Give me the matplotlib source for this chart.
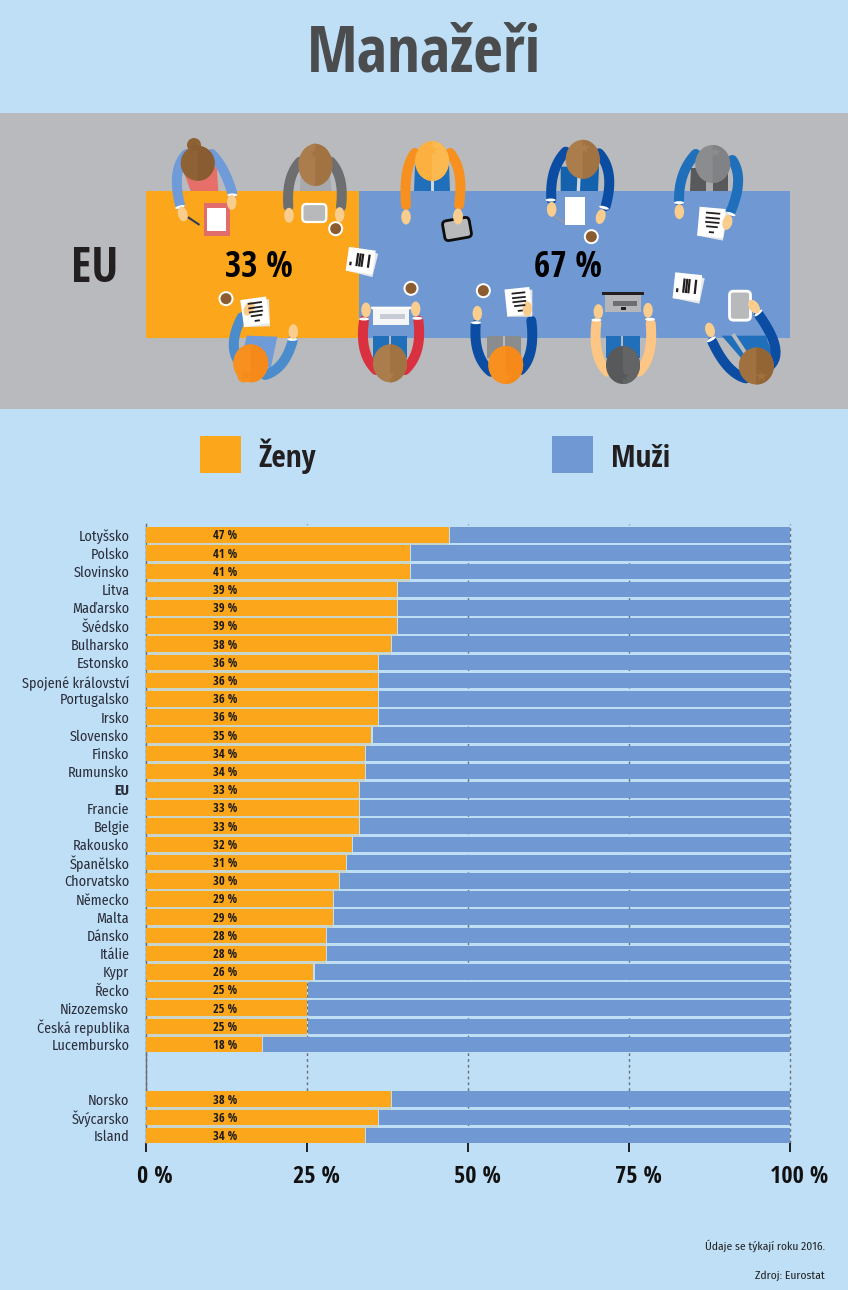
import numpy as np
import matplotlib
matplotlib.use("Agg")
import matplotlib.pyplot as plt
from matplotlib.patches import Rectangle, Polygon, Ellipse, Circle, FancyBboxPatch
from matplotlib.transforms import ScaledTranslation, Affine2D

# ---------- data ----------
countries = ["Lotyšsko", "Polsko", "Slovinsko", "Litva", "Maďarsko", "Švédsko", "Bulharsko", "Estonsko",
             "Spojené království", "Portugalsko", "Irsko", "Slovensko", "Finsko", "Rumunsko", "EU", "Francie",
             "Belgie", "Rakousko", "Španělsko", "Chorvatsko", "Německo", "Malta", "Dánsko", "Itálie", "Kypr",
             "Řecko", "Nizozemsko", "Česká republika", "Lucembursko"]
women = [47, 41, 41, 39, 39, 39, 38, 36, 36, 36, 36, 35, 34, 34, 33, 33, 33, 32, 31, 30, 29, 29, 28, 28, 26,
         25, 25, 25, 18]
other_countries = ["Norsko", "Švýcarsko", "Island"]
other_women = [38, 36, 34]
eu_women = 33
eu_men = 67
xticks = [0, 25, 50, 75, 100]
xticklabels = ["0 %", "25 %", "50 %", "75 %", "100 %"]
legend_labels = ["Ženy", "Muži"]
title = "Manažeři"
notes = ["Údaje se týkají roku 2016.", "Zdroj: Eurostat"]

# ---------- style ----------
BG = "#bfdff6"; GREY = "#b8babd"; ORANGE = "#fba61b"; BLUE = "#7099d3"
BOLD = ["Open Sans Condensed", "Liberation Sans", "DejaVu Sans"]
REG = ["Fira Sans Condensed", "Open Sans Condensed", "Liberation Sans", "DejaVu Sans"]
W, H = 848, 1290
fig = plt.figure(figsize=(W / 100, H / 100), dpi=100, facecolor=BG)

def px_axes(x0, y0, x1, y1, **kw):
    return fig.add_axes([x0 / W, 1 - y1 / H, (x1 - x0) / W, (y1 - y0) / H], **kw)

# ---------- static layout layer ----------
base = px_axes(0, 0, W, H, zorder=1)
base.set_xlim(0, W); base.set_ylim(H, 0); base.axis("off")
base.add_patch(Rectangle((0, 113), W, 296, fc=GREY, ec="none"))
base.text(424, 72, title, family=BOLD, fontweight="bold", fontsize=46.5, color="#4b4c4e", ha="center", va="baseline")
base.text(94.5, 282, "EU", family=BOLD, fontweight="bold", fontsize=34.5, color="#231f20", ha="center", va="baseline")
base.add_patch(Rectangle((200, 436), 41, 37, fc=ORANGE, ec="none"))
base.add_patch(Rectangle((552, 436), 41, 37, fc=BLUE, ec="none"))
base.text(258, 467, legend_labels[0], family=BOLD, fontweight="bold", fontsize=22.5, color="#231f20", va="baseline")
base.text(611, 467, legend_labels[1], family=BOLD, fontweight="bold", fontsize=22.5, color="#231f20", va="baseline")
base.text(825, 1246, notes[0], family=REG, fontsize=8.3, color="#222222", ha="right", va="center")
base.text(825, 1276, notes[1], family=REG, fontsize=8.3, color="#222222", ha="right", va="center")

# ---------- EU table (a stacked bar) ----------
tab = px_axes(146, 191, 790, 338, zorder=2)
tab.set_xlim(0, 100); tab.set_ylim(-0.5, 0.5); tab.axis("off")
tab.barh(0, eu_women, height=1, color=ORANGE, lw=0)
tab.barh(0, eu_men, left=eu_women, height=1, color=BLUE, lw=0)
tab.text(17.5, -0.085, f"{eu_women} %", family=BOLD, fontweight="bold", fontsize=25.3, color="black", ha="center", va="baseline")
tab.text(65.6, -0.085, f"{eu_men} %", family=BOLD, fontweight="bold", fontsize=25.3, color="black", ha="center", va="baseline")

# ---------- people illustration ----------
art = px_axes(0, 0, W, H, zorder=3)
art.set_xlim(0, W); art.set_ylim(H, 0); art.axis("off"); art.patch.set_alpha(0)

SKIN = "#f8cd8e"
def L(x, y): return (x / 3, 110 + y / 3)
def R(x, y): return (424 + x / 3, 110 + y / 3)

def arm(a, m, b, color, w=10):
    a, m, b = map(np.array, (a, m, b))
    c = m + 0.3 * (m - (a + b) / 2)
    t = np.linspace(0, 1, 40)[:, None]
    p = (1 - t) ** 2 * a + 2 * t * (1 - t) * c + t ** 2 * b
    art.plot(p[:, 0], p[:, 1], color=color, lw=w * 0.72, solid_capstyle="round", zorder=3)

def hand(p, a=0):
    art.add_patch(Ellipse(p, 9.5, 15, angle=a, fc=SKIN, ec="none", zorder=5))

def cuff(p, a=0):
    art.add_patch(Ellipse(p, 10, 3, angle=a, fc="white", ec="none", zorder=4))

def head(p, rx, ry, c1, c2, knot=None, star=None):
    art.add_patch(Ellipse(p, 2 * rx, 2 * ry, fc=c1, ec="none", zorder=6))
    t = np.linspace(-np.pi / 2, np.pi / 2, 40)
    pts = np.c_[p[0] + rx * np.cos(t), p[1] + ry * np.sin(t)]
    art.add_patch(Polygon(pts, fc=c2, ec="none", zorder=6))
    if knot is not None:
        art.add_patch(Circle(knot[:2], knot[2], fc=c1, ec="none", zorder=5))
    if star is not None:
        art.plot(*star, marker="*", ms=9, mfc=c1 if knot is None else c2, mec="none", alpha=1, zorder=7)

def box(pts, color, z=2):
    art.add_patch(Polygon(pts, fc=color, ec="none", zorder=z))

def rrect(c, w, h, rot, fc, ec=None, lw=2.0, r=3, z=5):
    p = FancyBboxPatch((-w / 2, -h / 2), w, h, boxstyle=f"round,pad=0,rounding_size={r}", fc=fc,
                       ec=ec or "none", lw=lw, zorder=z,
                       transform=Affine2D().rotate_deg(rot).translate(*c) + art.transData)
    art.add_patch(p)

def paper(c, w, h, rot, kind="lines"):
    rrect((c[0] + 1.5, c[1] + 1.5), w, h, rot + 6, "#e6e7e8", r=0.1, z=4)
    rrect(c, w, h, rot, "white", r=0.1, z=5)
    tr = Affine2D().rotate_deg(rot).translate(*c) + art.transData
    if kind == "lines":
        for f, ln in [(-0.32, 0.55), (-0.15, 0.55), (0.0, 0.55), (0.15, 0.45), (0.34, 0.2)]:
            art.plot([-ln * w / 2 + 1, ln * w / 2 + 1], [f * h, f * h], color="#231f20", lw=1.3, transform=tr, zorder=6, solid_capstyle="butt")
    else:
        for xx, top in [(-0.36, 0.1), (-0.13, -0.3), (-0.03, -0.3), (0.06, -0.3), (0.3, -0.3)]:
            art.plot([xx * w, xx * w], [top * h, 0.25 * h], color="#231f20", lw=1.6, transform=tr, zorder=6, solid_capstyle="butt")

def cup(c):
    art.add_patch(Circle(c, 7.5, fc="white", ec="none", zorder=5))
    art.add_patch(Circle(c, 5.5, fc="#8b5c30", ec="none", zorder=6))

HAIR = "#9c6c3c"; HAIR2 = "#8f6236"; TAN = "#ab7d4d"; TAN2 = "#a27342"
DKBLUE = "#0a4da2"; MIDBLUE = "#1f6fba"

# top row 1
box([L(553, 190), L(600, 215), L(650, 165), L(655, 243), L(572, 243)], "#e66f6a")
arm(L(560, 132), L(522, 185), L(540, 285), "#6f9bd8"); arm(L(635, 132), L(672, 175), L(697, 250), "#6f9bd8")
cuff(L(540, 291), -15); cuff(L(697, 255)); hand(L(548, 312), -15); hand(L(695, 277))
head(L(593, 160), 17, 17.5, HAIR2, "#8a5c32", (194, 145, 7), L(582, 110))
box([L(611, 279), L(689, 279), L(689, 378), L(611, 378)], "#e06c6c", 4)
box([L(622, 295), L(678, 295), L(678, 362), L(622, 362)], "white", 5)
art.plot(*zip(L(566, 323), L(596, 343)), color="#333b4f", lw=1.5, zorder=4)

# top row 2
box([L(902, 190), L(990, 190), L(995, 243), L(900, 243)], "#a7a9ac")
arm(L(900, 155), L(864, 205), L(865, 290), "#6d6e70"); arm(L(992, 155), L(1028, 205), L(1023, 290), "#6d6e70")
hand(L(867, 316)); hand(L(1019, 314))
head(L(946, 165), 17, 21, TAN, TAN2, (315, 150, 6.5), L(946, 128))
rrect(L(943, 309), 24, 18, 0, "#b7b9bb", "white", 1.6, 4)
cup(L(1007, 356))

# central sheet
paper(L(1082, 452), 27, 24, 8, "bars")

# top row 3 (orange)
box([(415, 165), (449, 165), (450, 191), (414, 191)], MIDBLUE)
box([(430.5, 178), (433.5, 178), (433.5, 191), (430.5, 191)], "#cfd6df", 3)
arm((415, 153), (405, 170), (406, 205), "#f7901e"); arm((450, 153), (462, 172), (459, 205), "#f7901e")
hand((406, 217)); hand((458, 217))
head((432, 161), 17, 20, "#fbb040", "#fcb950", None, (432, 150))
rrect((457, 229), 27, 20, -10, "#b7b9bb", "#0d0d0d", 2.0, 4, z=4)
hand((458, 216))

# top row 4
box([R(410, 170), R(525, 170), R(522, 243), R(410, 243)], "#1461ae")
box([R(460, 200), R(470, 200), R(468, 243), R(458, 243)], "#cfd6df", 3)
arm(R(425, 125), R(383, 180), R(382, 268), DKBLUE); arm(R(525, 130), R(565, 190), R(545, 288), DKBLUE)
cuff(R(380, 270)); cuff(R(540, 293), 15); hand(R(383, 298)); hand(R(530, 320), 15)
head(R(476, 148), 17, 19.5, TAN, TAN2, None, R(480, 113))
box([R(422, 260), R(483, 260), R(483, 345), R(422, 345)], "white", 4)
art.plot(*zip(R(395, 320), R(422, 338)), color="#8f9bb0", lw=1.5, zorder=3.5)
cup(R(502, 380))

# top row 5
box([R(800, 175), R(912, 175), R(912, 243), R(798, 243)], "#58595b")
box([R(845, 215), R(866, 215), R(866, 243), R(845, 243)], "#a7a9ac", 3)
arm(R(815, 132), R(770, 190), R(765, 272), MIDBLUE); arm(R(925, 150), R(953, 210), R(920, 305), MIDBLUE)
cuff(R(765, 278)); cuff(R(920, 312), 18); hand(R(766, 305)); hand(R(910, 337), 15)
paper(R(862, 337), 26, 29, 5)
hand(R(910, 337), 15)
head(R(866, 162), 17.5, 19, "#8a8c8e", "#808285", None, R(872, 125))

# bottom row 1 (orange hair)
box([L(740, 677), L(832, 680), L(812, 775), L(725, 745)], "#6f9bd8")
arm(L(725, 622), L(690, 705), L(720, 760), "#4a8ccc"); arm(L(795, 795), L(850, 770), L(878, 692), "#4a8ccc")
cuff(L(877, 688)); hand(L(880, 665))
paper(L(765, 605), 26, 27, -8)
hand(L(747, 596), 30)
cup(L(678, 566))
head(L(752, 760), 17.5, 19, "#f7901e", "#f58a1a", (244, 376, 6.5), L(734, 795))

# bottom row 2 (red)
box([L(1118, 677), L(1222, 677), L(1222, 745), L(1118, 745)], MIDBLUE)
box([L(1166, 677), L(1174, 677), L(1174, 745), L(1166, 745)], GREY, 3)
arm(L(1092, 632), L(1085, 725), L(1128, 780), "#d9313f"); arm(L(1255, 632), L(1260, 725), L(1215, 780), "#d9313f")
cuff(L(1092, 627)); cuff(L(1252, 625)); hand(L(1098, 600)); hand(L(1247, 597))
box([L(1112, 590), L(1235, 590), L(1232, 598), L(1115, 598)], "white", 4)
box([L(1120, 598), L(1226, 598), L(1226, 645), L(1120, 645)], "#f4f5f6", 4)
box([L(1140, 612), L(1216, 612), L(1216, 628), L(1140, 628)], "#c7cbd6", 5)
cup(L(1233, 535))
head(L(1170, 760), 17, 19, TAN, TAN2, None, L(1168, 795))

# bottom row 3 (orange, navy)
box([R(190, 677), R(290, 677), R(290, 745), R(190, 745)], "#8a8c8e")
box([R(236, 677), R(243, 677), R(243, 745), R(236, 745)], GREY, 3)
arm(R(155, 645), R(155, 735), R(200, 785), DKBLUE); arm(R(322, 632), R(328, 730), R(290, 780), DKBLUE)
cuff(R(156, 638)); hand(R(160, 610))
paper(R(283, 575), 25, 27, -6)
hand(R(310, 597)); cup(R(178, 542))
head(R(245, 765), 17.5, 19, "#f7901e", "#f58a1a", None, R(245, 800))

# bottom row 4 (laptop)
box([R(545, 677), R(648, 677), R(648, 745), R(545, 745)], MIDBLUE)
box([R(592, 677), R(598, 677), R(598, 745), R(592, 745)], GREY, 3)
arm(R(517, 640), R(512, 735), R(550, 785), "#fdc685"); arm(R(680, 640), R(683, 735), R(645, 785), "#fdc685")
cuff(R(517, 630)); cuff(R(678, 628)); hand(R(523, 605)); hand(R(672, 601))
box([R(535, 546), R(660, 546), R(660, 554), R(535, 554)], "#231f20", 4)
box([R(543, 554), R(650, 554), R(650, 605), R(543, 605)], "#b4b6b9", 4)
box([R(566, 573), R(638, 573), R(638, 587), R(566, 587)], "#6d6e70", 5)
box([R(590, 592), R(606, 592), R(606, 600), R(590, 600)], "#231f20", 5)
head(R(597, 765), 17, 19, "#58595b", "#636466", None, R(597, 798))

# sheet right
paper(R(790, 530), 27, 26, 6, "bars")

# bottom row 5
box([R(893, 677), R(1025, 677), R(1045, 730), R(965, 760)], MIDBLUE)
art.plot(*zip(R(930, 677), R(975, 745)), color=GREY, lw=2.8, zorder=3)
arm(R(865, 695), R(910, 780), R(965, 805), DKBLUE); arm(R(1005, 615), R(1068, 715), R(1040, 765), DKBLUE)
cuff(R(862, 688), -30); cuff(R(1003, 609), -40); hand(R(858, 660), -15); hand(R(990, 590), -35)
rrect(R(948, 587), 21, 29, 0, "#b7b9bb", "white", 2.0, 4, z=4)
hand(R(990, 590), -35)
head(R(997, 768), 17.5, 18.5, "#a0713f", "#946534", None, R(1012, 797))

# ---------- bar chart ----------
ax = px_axes(146, 524, 790, 1143, zorder=4)
ax.patch.set_alpha(0)
row_step = 18.2
ax.set_xlim(0, 100)
ax.set_ylim((1143 - 535) / row_step, (524 - 535) / row_step)

rows = np.r_[np.arange(len(countries)), np.arange(len(other_countries)) + 31]
names = countries + other_countries
vals = women + other_women
bar_h = 0.86
gap = 0.18

for group in (range(len(countries) - 1), range(len(countries), len(names) - 1)):
    idx = list(group)
    ax.barh(rows[idx] + 0.5, [vals[i] for i in idx], height=1 - bar_h, color="#c9d5cb", lw=0, zorder=1)
ax.barh(rows, vals, height=bar_h, color=ORANGE, lw=0, zorder=3)
ax.barh(rows, [100 - v - gap for v in vals], left=[v + gap for v in vals], height=bar_h, color=BLUE, lw=0, zorder=3)

for y, v in zip(rows, vals):
    ax.text(12.3, y + 0.05, f"{v} %", family=BOLD, fontweight="bold", fontsize=9, color="#1a1a1a", ha="center", va="center", zorder=5)

ax.set_yticks(rows, names, family=REG, fontsize=10.2, color="#2a2d3a")
ax.tick_params(axis="y", length=0, pad=12)
ax.get_yticklabels()[countries.index("EU")].set_fontweight("bold")

ax.set_xticks(xticks, xticklabels, family=BOLD, fontweight="bold", fontsize=17.5, color="#111111")
ax.tick_params(axis="x", length=6.5, width=1.3, color="#111111", pad=9)
off = ScaledTranslation(9 / 100, 0, fig.dpi_scale_trans)
for lab in ax.get_xticklabels():
    lab.set_transform(lab.get_transform() + off)

ax.grid(axis="x", color="#6b6e72", lw=1.0, ls=(0, (2, 2.2)), zorder=2)
for gl in ax.get_xgridlines():
    gl.set_clip_on(False)
ax.grid(axis="y", visible=False)
ax.set_axisbelow(True)
for s in ("top", "right", "bottom"):
    ax.spines[s].set_visible(False)
ax.spines["left"].set_color("#6b6e72")
ax.spines["left"].set_linewidth(1.0)
ax.spines["left"].set_zorder(2)

fig.savefig("out.png", dpi=100, facecolor=BG)
